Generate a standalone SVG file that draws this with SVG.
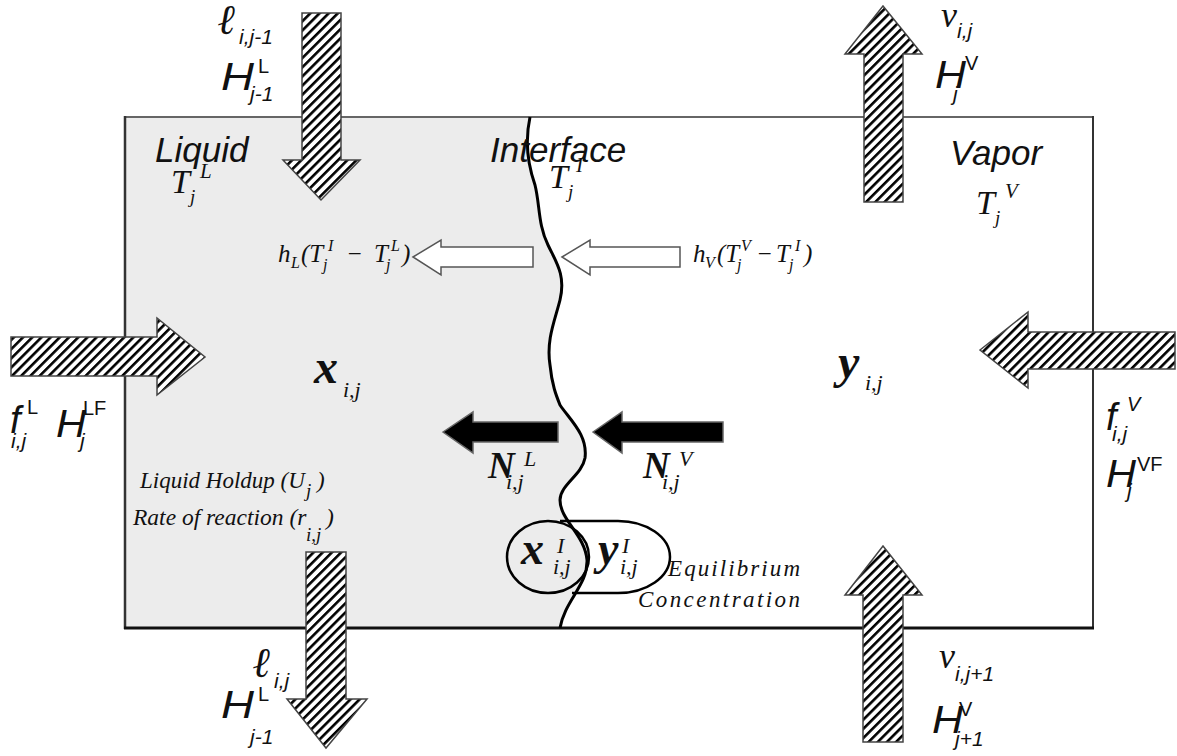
<svg xmlns="http://www.w3.org/2000/svg" width="1177" height="756" viewBox="0 0 1177 756">
<style>
.ser{font-family:"Liberation Serif","Times New Roman",serif;font-style:italic;fill:#111}
.serb{font-family:"Liberation Serif","Times New Roman",serif;font-style:italic;font-weight:bold;fill:#111}
.ell{font-family:"DejaVu Serif","Liberation Serif",serif;font-style:italic;font-weight:bold;fill:#111}
.san{font-family:"Liberation Sans",Arial,sans-serif;font-style:italic;fill:#111}
.sanu{font-family:"Liberation Sans",Arial,sans-serif;fill:#111}
.hatch{fill:url(#hatch);stroke:#444;stroke-width:1.5}
.white{fill:#fff;stroke:#555;stroke-width:1.5}
.black{fill:#000;stroke:#666;stroke-width:1.5}
</style>
<defs>
<pattern id="hatch" patternUnits="userSpaceOnUse" width="6.5" height="6.5" patternTransform="rotate(45)">
<rect width="6.5" height="6.5" fill="#fff"/>
<rect x="0" y="0" width="2.6" height="6.5" fill="#000"/>
</pattern>
</defs>
<rect width="1177" height="756" fill="#fff"/>
<g id="box">
<path d="M125,117 L530,117 C525,140 528,165 535,185 C540,205 538,225 548,245 C556,262 566,275 560,300 C555,320 546,340 550,365 C552,385 556,395 560,405 C570,420 588,435 585,458 C582,475 560,485 560,500 C560,520 585,535 587,560 C588,585 565,600 560,628 L125,628 Z" fill="#ececec"/>
<line x1="125" y1="117" x2="1093" y2="117" stroke="#666" stroke-width="2"/>
<line x1="125" y1="116" x2="125" y2="629" stroke="#333" stroke-width="2.5"/>
<line x1="1093" y1="116" x2="1093" y2="629" stroke="#333" stroke-width="2"/>
<line x1="124" y1="628" x2="1094" y2="628" stroke="#111" stroke-width="3"/>
<path d="M530,117 C525,140 528,165 535,185 C540,205 538,225 548,245 C556,262 566,275 560,300 C555,320 546,340 550,365 C552,385 556,395 560,405 C570,420 588,435 585,458 C582,475 560,485 560,500 C560,520 585,535 587,560 C588,585 565,600 560,628" fill="none" stroke="#000" stroke-width="3"/>
</g>
<g id="regions">
<text class="san" x="155" y="162" font-size="35">Liquid</text>
<text class="ser" x="171" y="193" font-size="34">T</text>
<text class="ser" x="190" y="203" font-size="19">j</text>
<text class="ser" x="200" y="178" font-size="21">L</text>
<text class="san" x="490" y="162" font-size="35">Interface</text>
<text class="ser" x="549" y="188" font-size="34">T</text>
<text class="ser" x="568" y="198" font-size="19">j</text>
<text class="ser" x="576" y="172" font-size="21">I</text>
<text class="san" x="950" y="165" font-size="35">Vapor</text>
<text class="ser" x="976" y="214" font-size="34">T</text>
<text class="ser" x="995" y="224" font-size="19">j</text>
<text class="ser" x="1005" y="198" font-size="21">V</text>
</g>
<g id="connectors">
<polygon id="liq-in" class="hatch" points="302,13 341,13 341,160 360,160 321,200 283,160 302,160"/>
<polygon id="vap-out" class="hatch" points="883,6 922,54 903,54 903,202 864,202 864,54 845,54"/>
<polygon id="feed-l" class="hatch" points="11,337 157,337 157,318 205,357 157,395 157,376 11,376"/>
<polygon id="feed-v" class="hatch" points="980,350 1028,312 1028,332 1175,332 1175,369 1028,369 1028,388"/>
<polygon id="liq-out" class="hatch" points="306,552 346,552 346,699 367,699 326,748 287,699 306,699"/>
<polygon id="vap-in" class="hatch" points="883,546 922,595 903,595 903,742 863,742 863,595 845,595"/>
<polygon id="heat-l" class="white" points="413,257 441,240 441,247 533,247 533,267 441,267 441,275"/>
<polygon id="heat-v" class="white" points="562,257 590,240 590,247 680,247 680,267 590,267 590,275"/>
<polygon id="mass-l" class="black" points="443,432 473,412 473,422 558,422 558,442 473,442 473,453"/>
<polygon id="mass-v" class="black" points="593,432 622,412 622,422 723,422 723,442 622,442 622,453"/>
</g>
<g id="label-liq-in">
<text class="ell" x="218" y="34" font-size="42">ℓ</text>
<text class="san" x="239" y="44" font-size="21">i,j-1</text>
<text class="san" x="221" y="90" font-size="38" textLength="33" lengthAdjust="spacingAndGlyphs">H</text>
<text class="sanu" x="258" y="73" font-size="20">L</text>
<text class="san" x="250" y="101" font-size="21">j-1</text>
</g>
<g id="label-vap-out">
<text class="ser" x="941" y="27" font-size="36">v</text>
<text class="san" x="957" y="38" font-size="21">i,j</text>
<text class="san" x="935" y="88" font-size="38" textLength="31" lengthAdjust="spacingAndGlyphs">H</text>
<text class="sanu" x="965" y="70" font-size="20">V</text>
<text class="san" x="953" y="101" font-size="21">j</text>
</g>
<g id="label-feed-l">
<text class="san" x="10" y="433" font-size="38">f</text>
<text class="sanu" x="27" y="414" font-size="20">L</text>
<text class="san" x="11" y="448" font-size="21">i,j</text>
<text class="san" x="56" y="437" font-size="38" textLength="30" lengthAdjust="spacingAndGlyphs">H</text>
<text class="sanu" x="83" y="415" font-size="20">LF</text>
<text class="san" x="80" y="448" font-size="21">j</text>
</g>
<g id="label-feed-v">
<text class="san" x="1106" y="430" font-size="38">f</text>
<text class="san" x="1127" y="411" font-size="20">V</text>
<text class="san" x="1112" y="441" font-size="21">i,j</text>
<text class="san" x="1106" y="487" font-size="38" textLength="30" lengthAdjust="spacingAndGlyphs">H</text>
<text class="sanu" x="1137" y="471" font-size="20">VF</text>
<text class="san" x="1127" y="498" font-size="21">j</text>
</g>
<g id="label-liq-out">
<text class="ell" x="253" y="677" font-size="42">ℓ</text>
<text class="san" x="274" y="688" font-size="21">i,j</text>
<text class="san" x="221" y="718" font-size="38" textLength="33" lengthAdjust="spacingAndGlyphs">H</text>
<text class="sanu" x="258" y="701" font-size="20">L</text>
<text class="san" x="250" y="744" font-size="21">j-1</text>
</g>
<g id="label-vap-in">
<text class="ser" x="939" y="668" font-size="36">v</text>
<text class="san" x="955" y="681" font-size="21">i,j+1</text>
<text class="san" x="932" y="733" font-size="38" textLength="31" lengthAdjust="spacingAndGlyphs">H</text>
<text class="sanu" x="959" y="716" font-size="20">V</text>
<text class="san" x="955" y="746" font-size="21">j+1</text>
</g>
<g id="label-heat-l">
<text class="ser" x="278" y="262" font-size="25">h</text>
<text class="ser" x="291" y="268" font-size="16">L</text>
<text class="ser" x="301" y="262" font-size="25">(T</text>
<text class="ser" x="323" y="270" font-size="16">j</text>
<text class="ser" x="328" y="251" font-size="16">I</text>
<text class="ser" x="346" y="262" font-size="25">−</text>
<text class="ser" x="374" y="262" font-size="25">T</text>
<text class="ser" x="386" y="270" font-size="16">j</text>
<text class="ser" x="391" y="251" font-size="16">L</text>
<text class="ser" x="402" y="262" font-size="25">)</text>
</g>
<g id="label-heat-v">
<text class="ser" x="693" y="262" font-size="25">h</text>
<text class="ser" x="705" y="268" font-size="16">V</text>
<text class="ser" x="717" y="262" font-size="25">(T</text>
<text class="ser" x="737" y="270" font-size="16">j</text>
<text class="ser" x="741" y="251" font-size="16">V</text>
<text class="ser" x="756" y="262" font-size="25">−</text>
<text class="ser" x="776" y="262" font-size="25">T</text>
<text class="ser" x="789" y="270" font-size="16">j</text>
<text class="ser" x="795" y="251" font-size="16">I</text>
<text class="ser" x="804" y="262" font-size="25">)</text>
</g>
<g id="label-x">
<text class="serb" x="314" y="383" font-size="48">x</text>
<text class="ser" x="343" y="397" font-size="22">i,j</text>
</g>
<g id="label-y">
<text class="serb" x="838" y="378" font-size="48">y</text>
<text class="ser" x="865" y="390" font-size="22">i,j</text>
</g>
<g id="label-NL">
<text class="serb" x="488" y="478" font-size="37">N</text>
<text class="ser" x="524" y="466" font-size="22">L</text>
<text class="ser" x="506" y="489" font-size="22">i,j</text>
</g>
<g id="label-NV">
<text class="serb" x="643" y="478" font-size="37">N</text>
<text class="ser" x="679" y="466" font-size="22">V</text>
<text class="ser" x="662" y="489" font-size="22">i,j</text>
</g>
<g id="label-holdup">
<text class="ser" x="140" y="488" font-size="23">Liquid Holdup (U</text>
<text class="ser" x="306" y="497" font-size="19">j</text>
<text class="ser" x="317" y="488" font-size="23">)</text>
<text class="ser" x="133" y="525" font-size="23.5">Rate of reaction (r</text>
<text class="ser" x="306" y="541" font-size="19">i,j</text>
<text class="ser" x="326" y="525" font-size="23.5">)</text>
</g>
<g id="equilibrium">
<ellipse cx="548" cy="557" rx="41" ry="36" fill="none" stroke="#000" stroke-width="2.5"/>
<path d="M560,521 L618,521 A52,36 0 0 1 618,593 L572,593" fill="none" stroke="#000" stroke-width="2.5"/>
<text class="serb" x="521" y="564" font-size="46">x</text>
<text class="ser" x="557" y="553" font-size="22">I</text>
<text class="ser" x="553" y="574" font-size="22">i,j</text>
<text class="serb" x="598" y="564" font-size="46">y</text>
<text class="ser" x="622" y="553" font-size="22">I</text>
<text class="ser" x="620" y="574" font-size="22">i,j</text>
<text class="ser" x="668" y="576" font-size="23" textLength="132">Equilibrium</text>
<text class="ser" x="638" y="607" font-size="23" textLength="162">Concentration</text>
</g>
</svg>
